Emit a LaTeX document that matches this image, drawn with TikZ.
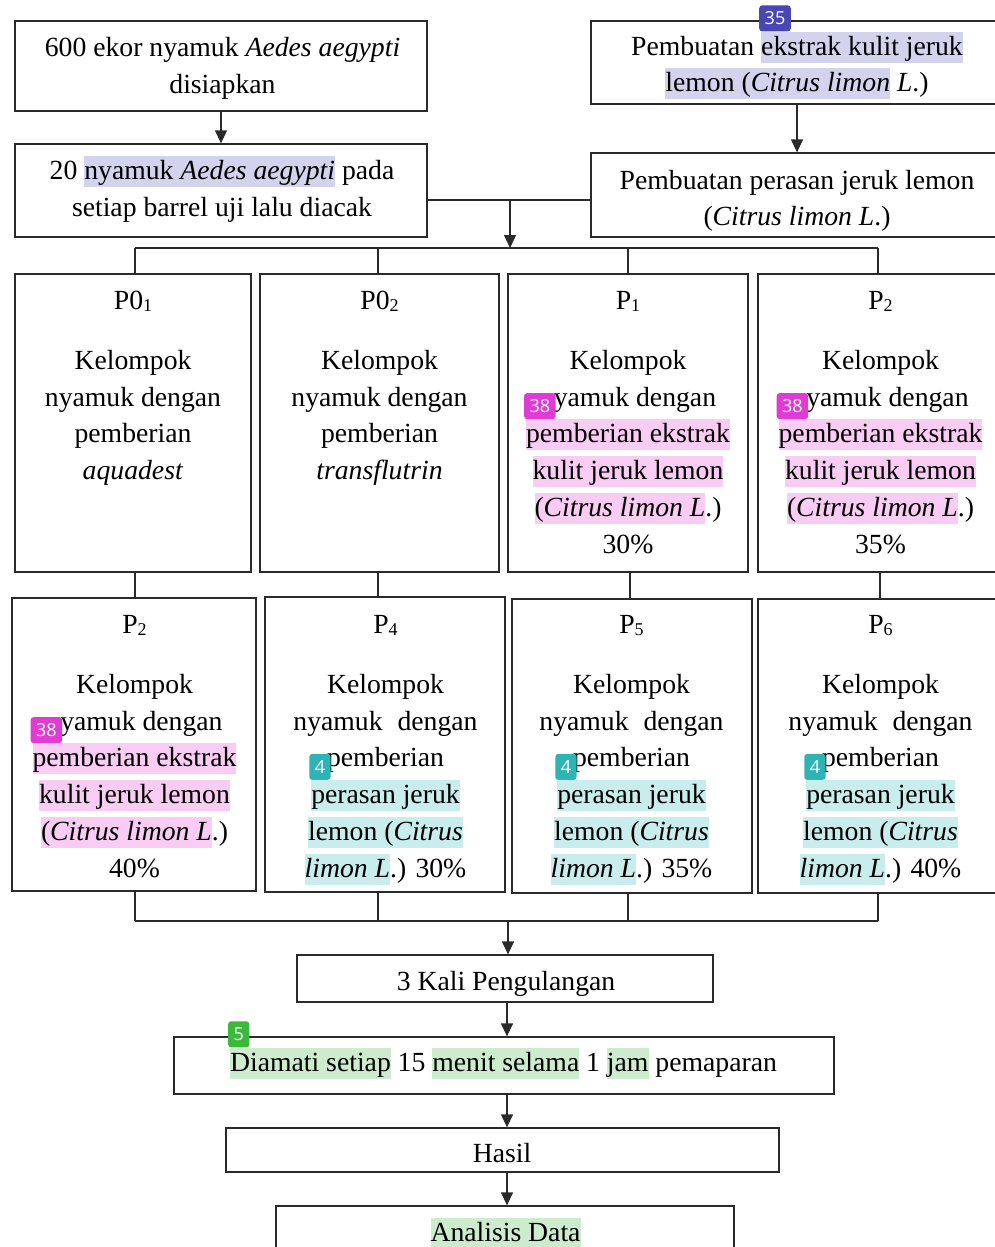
\documentclass[tikz,border=0pt]{standalone}
\usepackage{fontspec}
\setmainfont{Liberation Serif}
\newfontfamily\badgefont{Open Sans}
\usetikzlibrary{arrows.meta}
\definecolor{hlblue}{HTML}{D3D3EE}
\definecolor{hlpink}{HTML}{F9CCF4}
\definecolor{hlteal}{HTML}{C9ECEC}
\definecolor{hlgreen}{HTML}{CDECCD}
\definecolor{bgblue}{HTML}{4848B4}
\definecolor{bgpink}{HTML}{E03CD4}
\definecolor{bgteal}{HTML}{2EB4B4}
\definecolor{bggreen}{HTML}{3CB83C}
\definecolor{linec}{HTML}{2A2A2A}
\newcommand\lnstrut{\vrule height 25pt depth 10pt width 0pt\relax}
\newcommand\hlt[2]{{\setlength\fboxsep{0pt}\colorbox{#1}{\vrule height 23.5pt depth 7.5pt width 0pt\relax #2}}}
\newcommand\bdg[2]{\rlap{\smash{\kern-2pt\raisebox{23.5pt}{\tikz[baseline=(bb.south)]\node[draw=none,fill=#1,rounded corners=3pt,inner xsep=5.5pt,inner ysep=0pt,minimum height=26pt,minimum width=0pt,text=white,anchor=center,font=\badgefont\fontsize{18}{18}\selectfont](bb){#2};}}}}
\newcommand\sbs[1]{\raisebox{-2pt}{\fontsize{18}{18}\selectfont #1}}
\begin{document}
\begin{tikzpicture}[x=1pt,y=-1pt,
  box/.style={draw=linec,line width=1.3pt,inner sep=0pt,rectangle},
  txt/.style={inner sep=0pt,align=center,font=\fontsize{27.7}{36.8}\selectfont},
  conn/.style={draw=linec,line width=1.3pt},
  arr/.style={draw=linec,line width=1.3pt,-{Triangle[width=12pt,length=13pt]}}]
\useasboundingbox (0,0) rectangle (995,1247);
\fill[white] (0,0) rectangle (995,1247);
\clip (0,0) rectangle (995,1247);

% top boxes
\node[box,minimum width=412pt,minimum height=90pt] (A) at (221,66) {};
\node[box,minimum width=412pt,minimum height=93pt] (B) at (221,190.5) {};
\node[box,minimum width=412pt,minimum height=83pt] (C) at (797,62.5) {};
\node[box,minimum width=412pt,minimum height=84pt] (D) at (797,195) {};

% row 1
\node[box,minimum width=236pt,minimum height=298pt] (P01) at (133,423) {};
\node[box,minimum width=239pt,minimum height=298pt] (P02) at (379.5,423) {};
\node[box,minimum width=240pt,minimum height=298pt] (P1) at (628,423) {};
\node[box,minimum width=245pt,minimum height=298pt] (P2a) at (880.5,423) {};

% row 2
\node[box,minimum width=244pt,minimum height=293pt] (P2b) at (134,744.5) {};
\node[box,minimum width=240pt,minimum height=295pt] (P4) at (385,744.5) {};
\node[box,minimum width=240pt,minimum height=294pt] (P5) at (632,746) {};
\node[box,minimum width=245pt,minimum height=294pt] (P6) at (880.5,746) {};

% bottom chain
\node[box,minimum width=416pt,minimum height=47pt] (K) at (505,978.5) {};
\node[box,minimum width=660pt,minimum height=57pt] (Dm) at (504,1065.5) {};
\node[box,minimum width=553pt,minimum height=44pt] (H) at (502.5,1150) {};
\node[box,minimum width=458pt,minimum height=54pt] (AD) at (505,1233) {};

% connectors
\coordinate (x1) at (135,0);
\coordinate (x2) at (378,0);
\coordinate (x3) at (628,0);
\coordinate (x4) at (878,0);
\coordinate (x3b) at (630,0);
\coordinate (x4b) at (880,0);
\coordinate (j) at (510,200);
\coordinate (t1) at (135,248);
\coordinate (t4) at (878,248);
\coordinate (b1) at (135,921);
\coordinate (b4) at (878,921);
\coordinate (bm) at (508,921);
\coordinate (ax) at (507,0);

\draw[arr] (A.south) -- (B.north);
\draw[arr] (C.south) -- (D.north);
\draw[conn] (j -| B.east) -- (j -| D.west);
\draw[arr] (j) -- (j |- t1);
\draw[conn] (t1) -- (t4);
\draw[conn] (x1 |- t1) -- (x1 |- P01.north);
\draw[conn] (x2 |- t1) -- (x2 |- P02.north);
\draw[conn] (x3 |- t1) -- (x3 |- P1.north);
\draw[conn] (x4 |- t1) -- (x4 |- P2a.north);

\draw[conn] (x1 |- P01.south) -- (x1 |- P2b.north);
\draw[conn] (x2 |- P02.south) -- (x2 |- P4.north);
\draw[conn] (x3b |- P1.south) -- (x3b |- P5.north);
\draw[conn] (x4b |- P2a.south) -- (x4b |- P6.north);

\draw[conn] (x1 |- P2b.south) -- (b1);
\draw[conn] (x2 |- P4.south) -- (x2 |- b1);
\draw[conn] (x3 |- P5.south) -- (x3 |- b1);
\draw[conn] (x4 |- P6.south) -- (b4);
\draw[conn] (b1) -- (b4);
\draw[arr] (bm) -- (bm |- K.north);
\draw[arr] (ax |- K.south) -- (ax |- Dm.north);
\draw[arr] (ax |- Dm.south) -- (ax |- H.north);
\draw[arr] (ax |- H.south) -- (ax |- AD.north);

% texts
\node[txt] (tA) at (222.5,67.5) {\lnstrut 600 ekor nyamuk \textit{Aedes aegypti}\\\lnstrut disiapkan};
\node[txt] (tB) at (222,190.5) {\lnstrut 20 \hlt{hlblue}{nyamuk \textit{Aedes aegypti}} pada\\\lnstrut setiap barrel uji lalu diacak};
\node[txt] (tC) at (797,66) {\lnstrut Pembuatan \bdg{bgblue}{35}\hlt{hlblue}{ekstrak kulit jeruk}\\\lnstrut\hlt{hlblue}{lemon (\textit{Citrus limon}} \textit{L}.)};
\node[txt] (tD) at (797,200) {\lnstrut Pembuatan perasan jeruk lemon\\\lnstrut(\textit{Citrus limon L}.)};

\node[txt,anchor=north] (tP01) at (133,284) {\lnstrut P0\sbs{1}\\[23.2pt]\lnstrut Kelompok\\\lnstrut nyamuk dengan\\\lnstrut pemberian\\\lnstrut\textit{aquadest}};
\node[txt,anchor=north] (tP02) at (379.5,284) {\lnstrut P0\sbs{2}\\[23.2pt]\lnstrut Kelompok\\\lnstrut nyamuk dengan\\\lnstrut pemberian\\\lnstrut\textit{transflutrin}};
\node[txt,anchor=north] (tP1) at (628,284) {\lnstrut P\sbs{1}\\[23.2pt]\lnstrut Kelompok\\\lnstrut nyamuk dengan\\\lnstrut\bdg{bgpink}{38}\hlt{hlpink}{pemberian ekstrak}\\\lnstrut\hlt{hlpink}{kulit jeruk lemon}\\\lnstrut\hlt{hlpink}{(\textit{Citrus limon L}}.)\\\lnstrut 30\%};
\node[txt,anchor=north] (tP2a) at (880.5,284) {\lnstrut P\sbs{2}\\[23.2pt]\lnstrut Kelompok\\\lnstrut nyamuk dengan\\\lnstrut\bdg{bgpink}{38}\hlt{hlpink}{pemberian ekstrak}\\\lnstrut\hlt{hlpink}{kulit jeruk lemon}\\\lnstrut\hlt{hlpink}{(\textit{Citrus limon L}}.)\\\lnstrut 35\%};

\node[txt,anchor=north] (tP2b) at (134.5,608) {\lnstrut P\sbs{2}\\[23.2pt]\lnstrut Kelompok\\\lnstrut nyamuk dengan\\\lnstrut\bdg{bgpink}{38}\hlt{hlpink}{pemberian ekstrak}\\\lnstrut\hlt{hlpink}{kulit jeruk lemon}\\\lnstrut\hlt{hlpink}{(\textit{Citrus limon L}}.)\\\lnstrut 40\%};
\node[txt,anchor=north] (tP4) at (385.5,608) {\lnstrut P\sbs{4}\\[23.2pt]\lnstrut Kelompok\\\lnstrut nyamuk\hspace{8pt} dengan\\\lnstrut pemberian\\\lnstrut\bdg{bgteal}{4}\hlt{hlteal}{perasan jeruk}\\\lnstrut\hlt{hlteal}{lemon (\textit{Citrus}}\\\lnstrut\hlt{hlteal}{\textit{limon L}}.) 30\%};
\node[txt,anchor=north] (tP5) at (631.5,608) {\lnstrut P\sbs{5}\\[23.2pt]\lnstrut Kelompok\\\lnstrut nyamuk\hspace{8pt} dengan\\\lnstrut pemberian\\\lnstrut\bdg{bgteal}{4}\hlt{hlteal}{perasan jeruk}\\\lnstrut\hlt{hlteal}{lemon (\textit{Citrus}}\\\lnstrut\hlt{hlteal}{\textit{limon L}}.) 35\%};
\node[txt,anchor=north] (tP6) at (880.5,608) {\lnstrut P\sbs{6}\\[23.2pt]\lnstrut Kelompok\\\lnstrut nyamuk\hspace{8pt} dengan\\\lnstrut pemberian\\\lnstrut\bdg{bgteal}{4}\hlt{hlteal}{perasan jeruk}\\\lnstrut\hlt{hlteal}{lemon (\textit{Citrus}}\\\lnstrut\hlt{hlteal}{\textit{limon L}}.) 40\%};

\node[txt] (tK) at (506,982.5) {\lnstrut 3 Kali Pengulangan};
\node[txt] (tDm) at (503.5,1063.5) {\lnstrut\bdg{bggreen}{5}\hlt{hlgreen}{Diamati setiap} 15 \hlt{hlgreen}{menit selama} 1 \hlt{hlgreen}{jam} pemaparan};
\node[txt] (tH) at (502,1154.5) {\lnstrut Hasil};
\node[txt] (tAD) at (505.5,1233.5) {\lnstrut\hlt{hlgreen}{Analisis Data}};
\end{tikzpicture}
\end{document}
